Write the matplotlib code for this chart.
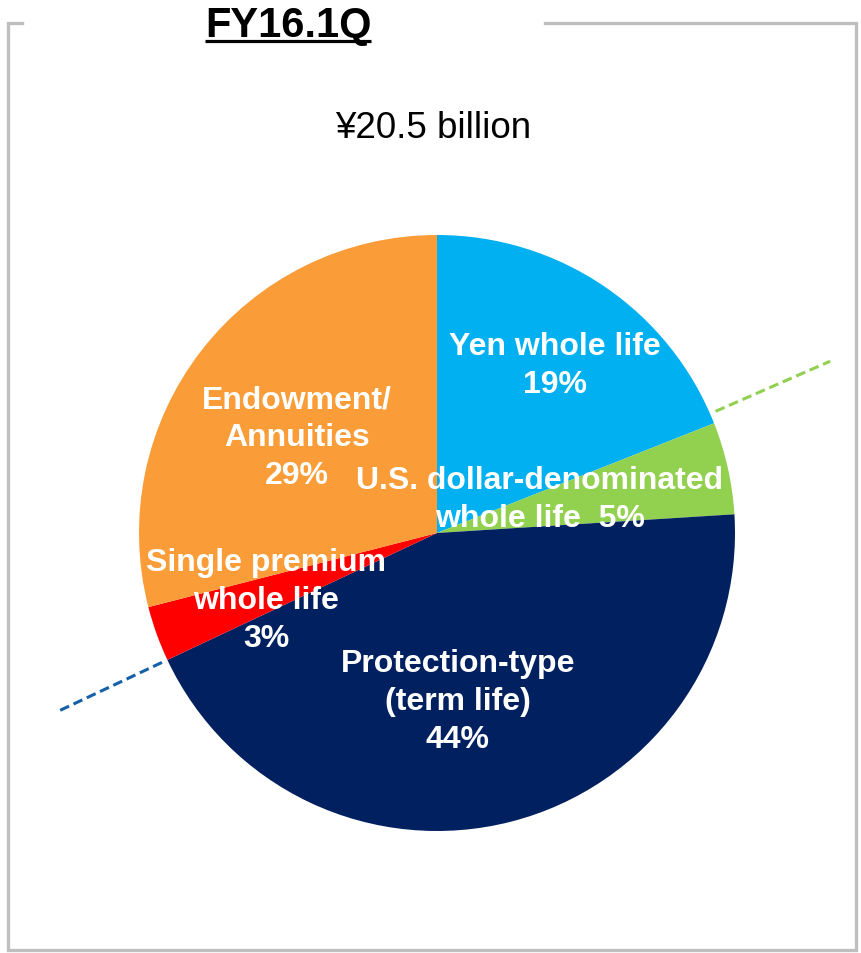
import matplotlib.pyplot as plt
import numpy as np

plt.rcParams["font.family"] = ["Liberation Sans", "DejaVu Sans"]

# premium mix, clockwise from 12 o'clock
segments = ["Yen whole life", "U.S. dollar-denominated whole life",
            "Protection-type (term life)", "Single premium whole life",
            "Endowment/Annuities"]
shares = [19, 5, 44, 3, 29]
colors = ["#00B0F0", "#92D050", "#002060", "#FF0000", "#FA9C37"]
label_text = [
    "Yen whole life\n19%",
    "U.S. dollar-denominated\nwhole life  5%",
    "Protection-type\n(term life)\n44%",
    "Single premium\nwhole life\n3%",
    "Endowment/\nAnnuities\n29%",
]
title = "FY16.1Q"
total_text = "¥20.5 billion"

W, H = 861, 954
fig = plt.figure(figsize=(W / 100, H / 100), dpi=100)
ax = fig.add_axes([0, 0, 1, 1])

cx, cy, r = 437, H - 534, 298
wedges, _ = ax.pie(shares, colors=colors, startangle=90, counterclock=False,
                   center=(cx, cy), radius=r,
                   wedgeprops=dict(linewidth=0))
ax.set_xlim(0, W)
ax.set_ylim(0, H)
ax.set_aspect("auto")
ax.axis("off")

# label placement (pixel coords, y from top)
label_pos = [(555, 366), (540, 500), (458, 702), (266, 601), (297, 438)]
for txt, (x, y) in zip(label_text, label_pos):
    ax.text(x, H - y, txt, ha="center", va="center", color="white",
            fontsize=23, fontweight="bold", linespacing=1.33)

# dashed extensions of two slice boundaries
bounds = 90 - 360 * np.cumsum(shares) / sum(shares)
for ang_deg, col, r_out in [(bounds[0] + 2, "#92D050", 1.44),
                            (bounds[2], "#1560A8", 1.40)]:
    ang = np.deg2rad(ang_deg)
    rr = np.array([1.02, r_out]) * r
    ax.plot(cx + rr * np.cos(ang), cy + rr * np.sin(ang), color=col,
            lw=2.2, ls=(0, (3.2, 1.6)), solid_capstyle="butt")

# frame with a gap for the heading
frame_x = [22, 8, 8, 856, 856, 545]
frame_y = [H - 24, H - 24, H - 951, H - 951, H - 24, H - 24]
ax.plot(frame_x, frame_y, color="#BFBFBF", lw=2.4, solid_joinstyle="miter")

t = ax.text(288, H - 37, title, ha="center", va="baseline",
            fontsize=30, fontweight="bold", color="black")
ax.text(433, H - 128, total_text, ha="center", va="center",
        fontsize=26.5, color="black")

# underline the heading
fig.canvas.draw()
bb = t.get_window_extent()
ax.plot([bb.x0, bb.x1], [H - 41.5, H - 41.5], color="black", lw=2.3,
        solid_capstyle="butt")

fig.savefig("out.png", dpi=100)
